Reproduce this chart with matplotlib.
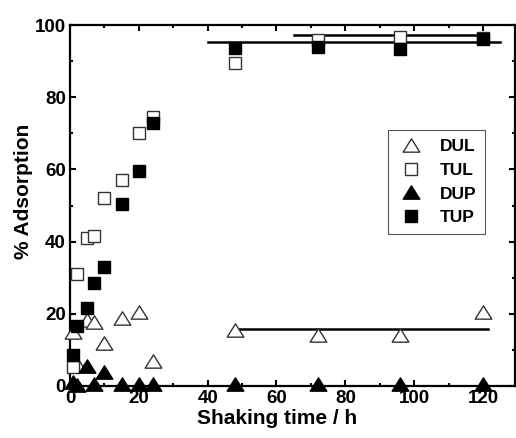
import matplotlib
matplotlib.use("Agg")
import matplotlib.pyplot as plt
from matplotlib.ticker import MultipleLocator
from matplotlib.path import Path

plt.rcParams['font.family'] = ['Liberation Sans', 'DejaVu Sans']
plt.rcParams['font.weight'] = 'bold'

time_h = [1, 2, 5, 7, 10, 15, 20, 24, 48, 72, 96, 120]
dul = [15, 6, 18.3, 17.6, 11.8, 18.9, 20.6, 6.8, 15.6, 14.2, 14.2, 20.4]
tul = [5.4, 31, 41, 41.5, 52, 57, 70, 74.6, 89.6, 95.9, 96.8, 96.3]
dup = [1, 0.3, 5.5, 0.5, 4, 0.5, 0.5, 0.5, 0.5, 0.5, 0.5, 0.5]
tup = [8.6, 16.5, 21.6, 28.5, 33, 50.3, 59.5, 72.8, 93.6, 93.8, 93.3, 96.1]

# plateau fit lines: (x start, x end, level)
fit_dul = ([48, 121.5], [15.8, 15.8])
fit_tup = ([40, 125], [95.4, 95.4])
fit_tul = ([65, 121], [97.2, 97.2])

fig = plt.figure(figsize=(5.16, 4.38), dpi=100)
ax = fig.add_axes([70/516, 52/438, 445/516, 361/438])

tri = Path([(-1, -0.8), (1, -0.8), (0, 0.8), (-1, -0.8)],
           [Path.MOVETO, Path.LINETO, Path.LINETO, Path.CLOSEPOLY])
kw = dict(linestyle='none', clip_on=False, zorder=3)
ax.plot(time_h, dul, marker=tri, ms=12, mfc='white', mec='#333333', mew=1.0, label='DUL', **kw)
ax.plot(time_h, tul, marker='s', ms=8.5, mfc='white', mec='#333333', mew=1.0, label='TUL', **kw)
ax.plot(time_h, dup, marker=tri, ms=12, mfc='black', mec='black', mew=1.0, label='DUP', **kw)
ax.plot(time_h, tup, marker='s', ms=8.5, mfc='black', mec='black', mew=1.0, label='TUP', **kw)

for xs, ys in (fit_dul, fit_tup, fit_tul):
    ax.plot(xs, ys, color='black', lw=1.8, zorder=2)

ax.set_xlim(0, 129.3)
ax.set_ylim(0, 100)
ax.xaxis.set_major_locator(MultipleLocator(20))
ax.xaxis.set_minor_locator(MultipleLocator(10))
ax.yaxis.set_major_locator(MultipleLocator(20))
ax.yaxis.set_minor_locator(MultipleLocator(10))
ax.tick_params(which='both', direction='in', top=True, right=True, width=1.5,
               labelsize=13.5)
ax.tick_params(which='major', length=4.5, pad=3)
ax.tick_params(which='minor', length=2.5)
for lab in ax.get_xticklabels() + ax.get_yticklabels():
    lab.set_fontweight('bold')
for s in ax.spines.values():
    s.set_linewidth(1.6)

ax.set_xlabel('Shaking time / h', fontsize=15, fontweight='bold', labelpad=0)
ax.xaxis.set_label_coords(0.4645, -0.065, transform=ax.transAxes)
ax.xaxis.label.set_verticalalignment('top')
ax.set_ylabel('% Adsorption', fontsize=15, fontweight='bold')
ax.yaxis.set_label_coords(-0.083, 0.54, transform=ax.transAxes)

leg = ax.legend(loc='upper left', bbox_to_anchor=(0.7146, 0.709), borderaxespad=0,
                fancybox=False, edgecolor='#555555', framealpha=1,
                prop={'weight': 'bold', 'size': 12.5}, labelspacing=0.5,
                handlelength=1.6, handletextpad=0.9, borderpad=0.5)
leg.get_frame().set_linewidth(0.8)

fig.savefig('out.png', dpi=100)
